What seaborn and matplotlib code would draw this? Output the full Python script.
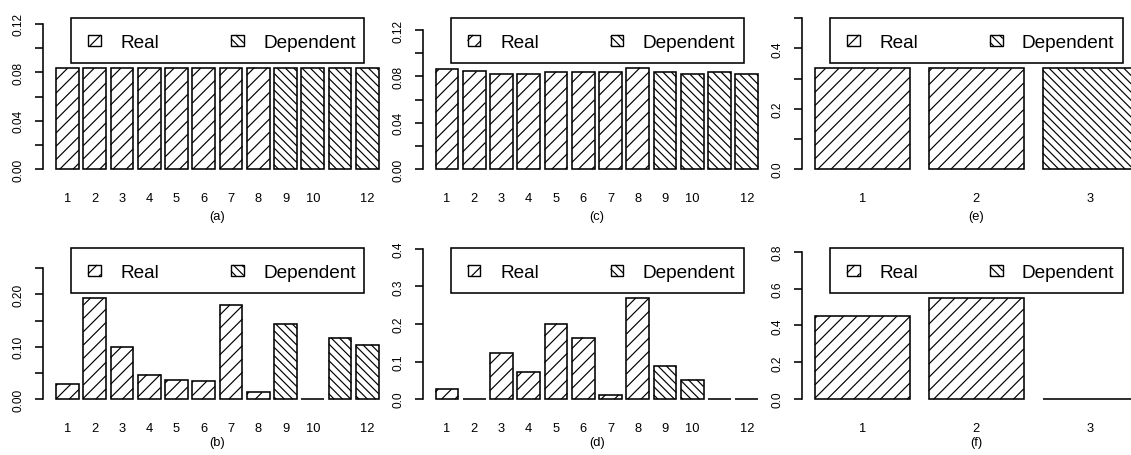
import numpy as np
import pandas as pd
import matplotlib
matplotlib.use("Agg")
import matplotlib.pyplot as plt
from matplotlib.collections import LineCollection
from matplotlib.patches import Rectangle
from matplotlib.transforms import IdentityTransform
import seaborn as sns

# ---------------------------------------------------------------- data
groups_12 = [str(g) for g in range(1, 13)]
groups_3 = ["1", "2", "3"]
kind_12 = ["Real"] * 8 + ["Dependent"] * 4
kind_3 = ["Real", "Real", "Dependent"]

share_a = [0.0833, 0.0833, 0.0833, 0.0833, 0.0833, 0.0834, 0.0833, 0.0839,
           0.0833, 0.0833, 0.0833, 0.0833]
share_b = [0.0287, 0.193, 0.100, 0.047, 0.036, 0.034, 0.180, 0.013,
           0.143, 0.0, 0.117, 0.104]
share_c = [0.0860, 0.0843, 0.0820, 0.0820, 0.0840, 0.0840, 0.0837, 0.0875,
           0.0837, 0.0817, 0.0837, 0.0817]
share_d = [0.0267, 0.0, 0.122, 0.072, 0.201, 0.164, 0.0116, 0.269,
           0.088, 0.052, 0.0, 0.0]
share_e = [0.3333, 0.3333, 0.3333]
share_f = [0.451, 0.548, 0.0]

xlabels_12 = ["1", "2", "3", "4", "5", "6", "7", "8", "9", "10", "", "12"]
xlabels_3 = ["1", "2", "3"]

yticks_a = [0.0, 0.02, 0.04, 0.06, 0.08, 0.10, 0.12]
ylabels_a = ["0.00", "", "0.04", "", "0.08", "", "0.12"]
yticks_b = [0.0, 0.05, 0.10, 0.15, 0.20, 0.25]
ylabels_b = ["0.00", "", "0.10", "", "0.20", ""]
yticks_d = [0.0, 0.1, 0.2, 0.3, 0.4]
ylabels_d = ["0.0", "0.1", "0.2", "0.3", "0.4"]
yticks_e = [0.0, 0.1, 0.2, 0.3, 0.4, 0.5]
ylabels_e = ["0.0", "", "0.2", "", "0.4", ""]
yticks_f = [0.0, 0.2, 0.4, 0.6, 0.8]
ylabels_f = ["0.0", "0.2", "0.4", "0.6", "0.8"]

legend_labels = ["Real", "Dependent"]
captions = ["(a)", "(b)", "(c)", "(d)", "(e)", "(f)"]

# ---------------------------------------------------------------- style
sns.set_style("white")
plt.rcParams["font.family"] = ["Liberation Sans", "DejaVu Sans"]
for key in ["text.color", "axes.labelcolor", "xtick.color", "ytick.color",
            "axes.edgecolor"]:
    plt.rcParams[key] = "black"

W, H = 1131, 456
DPI = 100
fig = plt.figure(figsize=(W / DPI, H / DPI), dpi=DPI)
fig.patch.set_facecolor("white")

COL_LEFT = [43.1, 422.6, 802.0]
COL_W = 348.5
ROW_TOP = [19.0, 249.0]
ROW_H = 157.0
CAPTION_Y = [217.0, 443.0]

EDGE_LW = 1.15
HATCH_LW = 0.85
SPACING = {"Real": 13.3, "Dependent": 8.3}   # hatch spacing in pixels
DIRECTION = {"Real": 1, "Dependent": -1}     # +1 => "/", -1 => "\"


def hatch_segments(x0, y0, x1, y1, spacing, direction):
    """Diagonal hatch lines clipped to a display-space rectangle."""
    segs = []
    if y1 - y0 < 0.5 or x1 - x0 < 0.5:
        return segs
    if direction > 0:
        cmin, cmax = y0 - x1, y1 - x0
        k0 = int(np.ceil(cmin / spacing))
        k1 = int(np.floor(cmax / spacing))
        for k in range(k0, k1 + 1):
            c = k * spacing
            xs, xe = max(x0, y0 - c), min(x1, y1 - c)
            if xe - xs > 0.3:
                segs.append([(xs, xs + c), (xe, xe + c)])
    else:
        cmin, cmax = x0 + y0, x1 + y1
        k0 = int(np.ceil(cmin / spacing))
        k1 = int(np.floor(cmax / spacing))
        for k in range(k0, k1 + 1):
            c = k * spacing
            xs, xe = max(x0, c - y1), min(x1, c - y0)
            if xe - xs > 0.3:
                segs.append([(xs, c - xs), (xe, c - xe)])
    return segs


def add_hatch(ax, x0, y0, x1, y1, kind, zorder):
    segs = hatch_segments(x0, y0, x1, y1, SPACING[kind], DIRECTION[kind])
    if segs:
        lc = LineCollection(segs, colors="black", linewidths=HATCH_LW,
                            transform=IdentityTransform(), zorder=zorder,
                            clip_on=False)
        ax.add_collection(lc)


def panel(col, row, groups, values, kinds, xlabels, yticks, ylabels, ytop,
          caption):
    left, top = COL_LEFT[col], ROW_TOP[row]
    ax = fig.add_axes([left / W, 1 - (top + ROW_H) / H, COL_W / W, ROW_H / H])
    df = pd.DataFrame({"group": groups, "share": values})
    sns.barplot(data=df, x="group", y="share", order=groups, color="white",
                saturation=1, edgecolor="black", linewidth=EDGE_LW,
                width=1 / 1.2, errorbar=None, ax=ax)
    n = len(groups)
    half = 0.5 / 1.2
    pad = 0.04 * ((n - 1) + 2 * half)
    ax.set_xlim(-half - pad, n - 1 + half + pad)
    ax.set_ylim(-0.04 * ytop, 1.04 * ytop)
    ax.set_facecolor("none")
    for s in ["top", "right", "bottom"]:
        ax.spines[s].set_visible(False)
    ax.spines["left"].set_linewidth(EDGE_LW)
    ax.spines["left"].set_bounds(yticks[0], yticks[-1])
    ax.set_xlabel("")
    ax.set_ylabel("")
    ax.set_xticks(range(n))
    ax.set_xticklabels(xlabels, fontsize=9.3)
    ax.tick_params(axis="x", length=0, pad=12.0)
    ax.set_yticks(yticks)
    ax.set_yticklabels(ylabels, fontsize=8.6, rotation=90, va="center")
    ax.tick_params(axis="y", length=5.8, width=EDGE_LW, pad=7.5, left=True)

    # diagonal shading on every bar
    for patch, kind in zip(ax.patches, kinds):
        bx, by = patch.get_x(), patch.get_y()
        bw, bh = patch.get_width(), patch.get_height()
        (x0, y0), (x1, y1) = ax.transData.transform([(bx, by), (bx + bw, by + bh)])
        add_hatch(ax, x0, min(y0, y1), x1, max(y0, y1), kind, zorder=2.5)

    # legend box across the top of the panel
    box_x, box_w, box_h = 27.9, 293.0, 45.0
    ax.add_patch(Rectangle((box_x / COL_W, 1 - box_h / ROW_H), box_w / COL_W,
                           box_h / ROW_H, transform=ax.transAxes,
                           facecolor="white", edgecolor="black",
                           linewidth=EDGE_LW, zorder=5, clip_on=False))
    for key_x, text_x, label in zip([44.9, 188.0], [77.6, 219.9], legend_labels):
        kx0 = left + key_x
        ky_top, ky_bot = top + 17.0, top + 28.0
        ax.add_patch(Rectangle((key_x / COL_W, 1 - 28.0 / ROW_H), 12.8 / COL_W,
                               11.0 / ROW_H, transform=ax.transAxes,
                               facecolor="white", edgecolor="black",
                               linewidth=1.0, zorder=6, clip_on=False))
        add_hatch(ax, kx0, H - ky_bot, kx0 + 12.8, H - ky_top, label, zorder=7)
        ax.text(text_x / COL_W, 1 - 29.3 / ROW_H, label, transform=ax.transAxes,
                fontsize=13.7, ha="left", va="baseline", zorder=7)

    fig.text((left + COL_W / 2) / W, 1 - CAPTION_Y[row] / H, caption,
             fontsize=9.3, ha="center", va="center")
    return ax


panel(0, 0, groups_12, share_a, kind_12, xlabels_12, yticks_a, ylabels_a, 0.1200, captions[0])
panel(0, 1, groups_12, share_b, kind_12, xlabels_12, yticks_b, ylabels_b, 0.2776, captions[1])
panel(1, 0, groups_12, share_c, kind_12, xlabels_12, yticks_a, ylabels_a, 0.1254, captions[2])
panel(1, 1, groups_12, share_d, kind_12, xlabels_12, yticks_d, ylabels_d, 0.3870, captions[3])
panel(2, 0, groups_3, share_e, kind_3, xlabels_3, yticks_e, ylabels_e, 0.4810, captions[4])
panel(2, 1, groups_3, share_f, kind_3, xlabels_3, yticks_f, ylabels_f, 0.7890, captions[5])

fig.savefig("out.png", dpi=DPI, facecolor="white")
